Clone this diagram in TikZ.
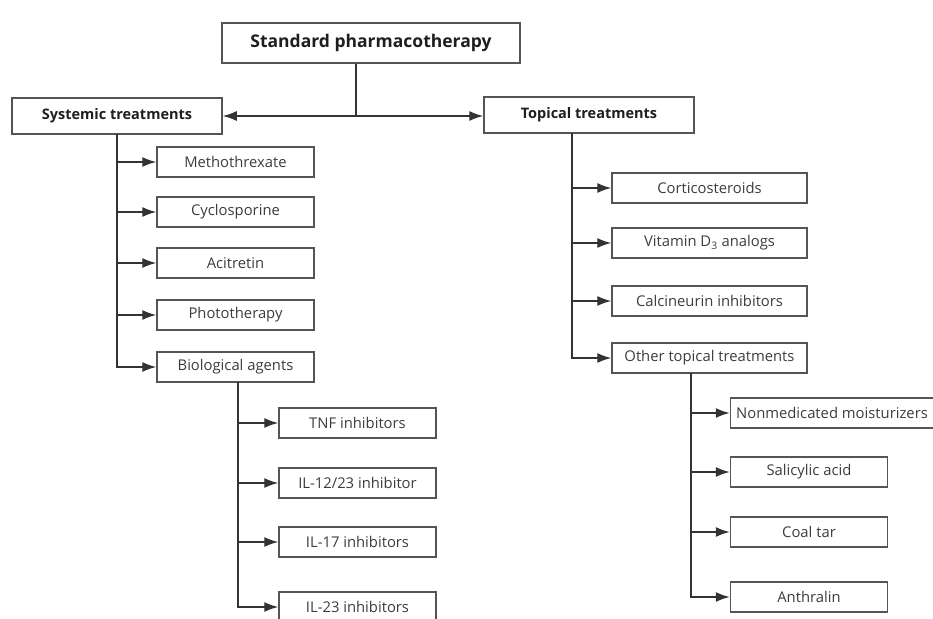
\documentclass[tikz,border=0pt]{standalone}
\usepackage{fontspec}
\setmainfont{Open Sans}
\usetikzlibrary{arrows.meta}
\definecolor{boxline}{HTML}{555555}
\definecolor{txt}{HTML}{3C3C3C}
\definecolor{btxt}{HTML}{1E1E1E}
\tikzset{
  box/.style={draw=boxline, line width=1.5pt, rectangle, inner sep=0pt, minimum height=30pt, text=txt, font=\fontsize{14.8}{16}\selectfont},
  mainbox/.style={box, minimum width=210pt, minimum height=36pt, text=btxt, font=\fontsize{14.5}{16}\selectfont\bfseries},
  lbox/.style={box, minimum width=157pt},
  rbox/.style={box, minimum width=195pt},
  conn/.style={draw=black!80, line width=1.4pt},
  arr/.style={conn, -{Latex[length=14pt,width=10pt]}},
}
\begin{document}
\begin{tikzpicture}[x=1pt,y=-1pt]
\useasboundingbox (0,0) rectangle (933,618);
% top
\node[box, minimum width=298pt, minimum height=40pt, text=btxt, font=\fontsize{17.5}{19}\selectfont\bfseries] (std) at (371,43) {Standard pharmacotherapy};
\node[mainbox] (sys) at (117,116) {Systemic treatments};
\node[mainbox] (topi) at (589,115) {Topical treatments};
\coordinate (j) at (356,116);
\draw[conn] (std.south -| j) -- (j);
\draw[arr] (j) -- (sys.east);
\draw[arr] (j) -- (topi.west |- j);
% systemic children
\node[lbox] (mtx) at (235.5,162) {Methothrexate};
\node[lbox] (cyc) at (235.5,212) {Cyclosporine};
\node[lbox] (aci) at (235.5,263) {Acitretin};
\node[lbox] (pho) at (235.5,315) {Phototherapy};
\node[lbox] (bio) at (235.5,367) {Biological agents};
\coordinate (sv) at (117,134);
\foreach \n in {mtx,cyc,aci,pho,bio}{
  \draw[arr] (sv) |- (\n.west);
}
% biological children
\node[lbox] (tnf) at (357.5,423) {TNF inhibitors};
\node[lbox] (il12) at (357.5,483) {IL-12/23 inhibitor};
\node[lbox] (il17) at (357.5,542) {IL-17 inhibitors};
\node[lbox] (il23) at (357.5,607) {IL-23 inhibitors};
\coordinate (bv) at (238,382);
\foreach \n in {tnf,il12,il17,il23}{
  \draw[arr] (bv) |- (\n.west);
}
% topical children
\node[rbox] (cor) at (709.5,188) {Corticosteroids};
\node[rbox] (vit) at (709.5,243) {Vitamin D\textsubscript{3} analogs};
\node[rbox] (cal) at (709.5,301) {Calcineurin inhibitors};
\node[rbox] (oth) at (709.5,358) {Other topical treatments};
\coordinate (tv) at (572,133);
\foreach \n in {cor,vit,cal,oth}{
  \draw[arr] (tv) |- (\n.west);
}
% other children
\node[box, minimum width=203pt] (non) at (832,413) {Nonmedicated moisturizers};
\node[lbox] (sal) at (809,472) {Salicylic acid};
\node[lbox] (coa) at (809,532) {Coal tar};
\node[lbox] (ant) at (809,597) {Anthralin};
\coordinate (ov) at (691,373);
\foreach \n in {non,sal,coa,ant}{
  \draw[arr] (ov) |- (\n.west);
}
\end{tikzpicture}
\end{document}
